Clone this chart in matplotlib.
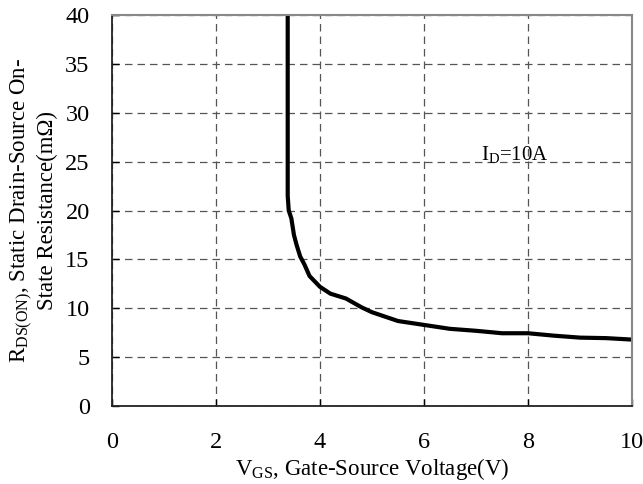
import matplotlib
matplotlib.use("Agg")
import matplotlib.pyplot as plt

plt.rcParams.update({
    "font.family": ["Liberation Serif", "DejaVu Serif"],
    "mathtext.fontset": "custom",
    "mathtext.rm": "Liberation Serif",
    "mathtext.it": "Liberation Serif",
    "font.size": 16,
})

# R_DS(on) vs V_GS, I_D = 10 A
vgs = [3.38, 3.38, 3.40, 3.45, 3.50, 3.55, 3.62, 3.70, 3.80, 4.0, 4.2, 4.5,
       4.8, 5.0, 5.5, 6.0, 6.5, 7.0, 7.5, 8.0, 8.5, 9.0, 9.5, 10.0]
rds = [40, 21.5, 20.0, 19.2, 17.5, 16.5, 15.3, 14.5, 13.3, 12.2, 11.5, 11.0,
       10.1, 9.6, 8.7, 8.3, 7.9, 7.7, 7.45, 7.45, 7.2, 7.0, 6.95, 6.8]
xticks = [0, 2, 4, 6, 8, 10]
yticks = [0, 5, 10, 15, 20, 25, 30, 35, 40]

fig = plt.figure(figsize=(6.43, 4.84), dpi=100)
ax = fig.add_axes([0.174, 0.161, 0.809, 0.808])

ax.plot(vgs, rds, color="black", linewidth=3.0, solid_joinstyle="round")

ax.set_xlim(0, 10)
ax.set_ylim(0, 40)
ax.set_xticks(xticks)
ax.set_yticks(yticks)
ax.tick_params(direction="in", length=5, width=1, labelsize=17.5)
ax.tick_params(axis="y", pad=16)
ax.tick_params(axis="x", pad=19)
ax.grid(True, linestyle=(0, (6, 4)), color="#555555", linewidth=0.9)

for side in ("top", "right"):
    ax.spines[side].set_color("#888888")
    ax.spines[side].set_linewidth(1.5)
for side in ("left", "bottom"):
    ax.spines[side].set_color("#222222")
    ax.spines[side].set_linewidth(1.3)

ax.set_xlabel(r"V$_{\rm GS}$, Gate-Source Voltage(V)", fontsize=16.5, labelpad=2)
ax.set_ylabel("R$_{\\rm DS(ON)}$, Static Drain-Source On-\nState Resistance(m\u03a9)",
              fontsize=16.5, labelpad=5, linespacing=1.15)

ax.text(7.1, 25.7, r"I$_{\rm D}$=10A", fontsize=15, va="center", ha="left")

fig.savefig("out.png", dpi=100)
